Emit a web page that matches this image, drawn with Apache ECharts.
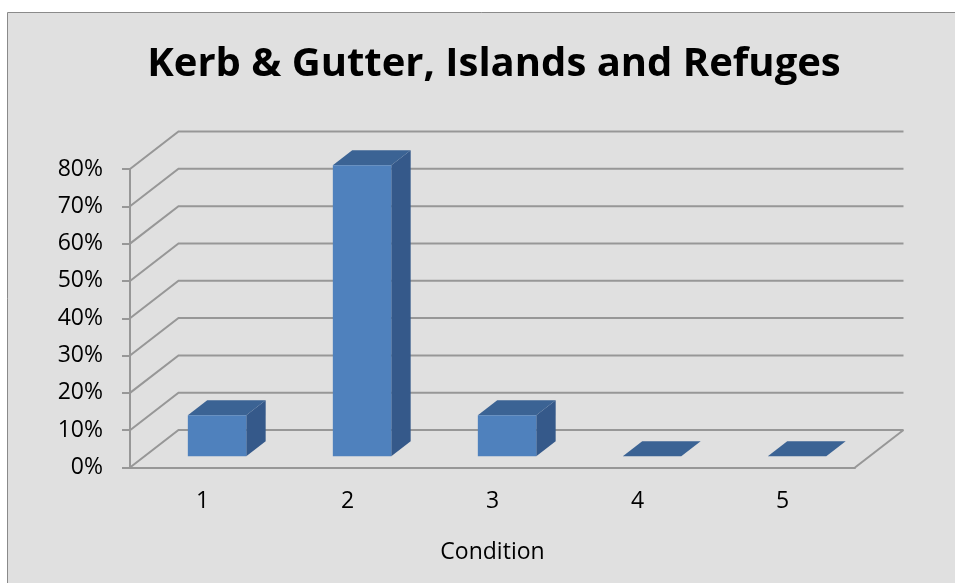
<!DOCTYPE html>
<html>
<head>
<meta charset="utf-8">
<title>Kerb &amp; Gutter, Islands and Refuges</title>
<script src="https://cdn.jsdelivr.net/npm/echarts@6/dist/echarts.min.js"></script>
<style>
  html, body { margin: 0; padding: 0; background: #ffffff; }
  #chart { width: 955px; height: 583px; }
</style>
</head>
<body>
<div id="chart"></div>
<script>
// Condition ratings (categories) and the share of assets in each (percent)
const categories = ['1', '2', '3', '4', '5'];
const shares = [11, 78, 11, 0, 0];
// Value axis ticks (percent)
const yTicks = [0, 10, 20, 30, 40, 50, 60, 70, 80];

// Oblique projection of the depth axis, in pixels
const DEPTH_X = 48.5;
const DEPTH_Y = -37.5;
// Bar placement inside the depth and the category band
const BAR_FRONT = 0.3;   // fraction of depth where the bar's front face sits
const BAR_DEPTH = 0.4;   // fraction of depth the bar occupies
const BAR_WIDTH = 0.403; // fraction of the category band

const GRID_COLOR = '#979797';
const FONT = '"Open Sans", "Liberation Sans", sans-serif';

const chart = echarts.init(document.getElementById('chart'));

// Back wall and floor: each tick draws a line up the left wall and along the back
function renderWallLine(params, api) {
  const v = api.value(1);
  const p = api.coord([0, v]);
  const cs = params.coordSys;
  const x0 = cs.x, x1 = cs.x + cs.width, y = p[1];
  const children = [{
    type: 'polyline',
    shape: { points: [[x0, y], [x0 + DEPTH_X, y + DEPTH_Y], [x1 + DEPTH_X, y + DEPTH_Y]] },
    style: { stroke: GRID_COLOR, lineWidth: 2, fill: null }
  }];
  if (v === 0) {
    // right edge of the floor
    children.push({
      type: 'line',
      shape: { x1: x1, y1: y, x2: x1 + DEPTH_X, y2: y + DEPTH_Y },
      style: { stroke: GRID_COLOR, lineWidth: 2 }
    });
  }
  return { type: 'group', children: children };
}

// 3D column: front face, top face and right side face
function renderColumn(params, api) {
  const idx = api.value(0);
  const v = api.value(1);
  const base = api.coord([idx, 0]);
  const top = api.coord([idx, v]);
  const band = api.size([1, 0])[0];
  const w = band * BAR_WIDTH;
  const fx = base[0] + BAR_FRONT * DEPTH_X - w / 2;
  const fy0 = base[1] + BAR_FRONT * DEPTH_Y;
  const fy1 = top[1] + BAR_FRONT * DEPTH_Y;
  const dx = BAR_DEPTH * DEPTH_X;
  const dy = BAR_DEPTH * DEPTH_Y;
  return {
    type: 'group',
    children: [
      {
        type: 'polygon',
        shape: { points: [[fx + w, fy1], [fx + w, fy0], [fx + w + dx, fy0 + dy], [fx + w + dx, fy1 + dy]] },
        style: { fill: '#35598a' }
      },
      {
        type: 'polygon',
        shape: { points: [[fx, fy1], [fx + w, fy1], [fx + w + dx, fy1 + dy], [fx + dx, fy1 + dy]] },
        style: { fill: '#3b6394' }
      },
      {
        type: 'rect',
        shape: { x: fx, y: fy1, width: w, height: fy0 - fy1 },
        style: { fill: '#4f81bd' }
      }
    ]
  };
}

chart.setOption({
  animation: false,
  backgroundColor: '#ffffff',
  graphic: [{
    type: 'rect',
    z: -10,
    silent: true,
    shape: { x: 7.5, y: 12.5, width: 1000, height: 700 },
    style: { fill: '#e0e0e0', stroke: '#8a8a8a', lineWidth: 1 }
  }],
  title: {
    text: 'Kerb & Gutter, Islands and Refuges',
    left: 489,
    textAlign: 'center',
    top: 40,
    textStyle: {
      fontFamily: FONT,
      fontWeight: 'bold',
      fontSize: 40,
      lineHeight: 40,
      color: '#000000'
    }
  },
  grid: { left: 130, right: 100, top: 169, bottom: 115.5 },
  xAxis: {
    type: 'category',
    data: categories,
    name: 'Condition',
    nameLocation: 'middle',
    nameGap: 73,
    nameTextStyle: { fontFamily: FONT, fontSize: 23, color: '#000000' },
    axisLine: { show: true, lineStyle: { color: GRID_COLOR, width: 2 } },
    axisTick: { show: false },
    axisLabel: { margin: 22, fontFamily: FONT, fontSize: 23, color: '#000000' },
    splitLine: { show: false }
  },
  yAxis: {
    type: 'value',
    min: 0,
    max: 80,
    interval: 10,
    axisLine: { show: true, lineStyle: { color: GRID_COLOR, width: 2 } },
    axisTick: { show: true, length: 8, lineStyle: { color: GRID_COLOR, width: 2 } },
    axisLabel: { margin: 27, fontFamily: FONT, fontSize: 23, color: '#000000', formatter: '{value}%' },
    splitLine: { show: false }
  },
  series: [
    {
      type: 'custom',
      name: 'walls',
      clip: false,
      silent: true,
      z: 1,
      renderItem: renderWallLine,
      encode: { x: 0, y: 1 },
      data: yTicks.map(v => [0, v])
    },
    {
      type: 'custom',
      name: 'Share',
      clip: false,
      z: 3,
      renderItem: renderColumn,
      encode: { x: 0, y: 1 },
      data: shares.map((v, i) => [i, v])
    }
  ]
});
</script>
</body>
</html>
